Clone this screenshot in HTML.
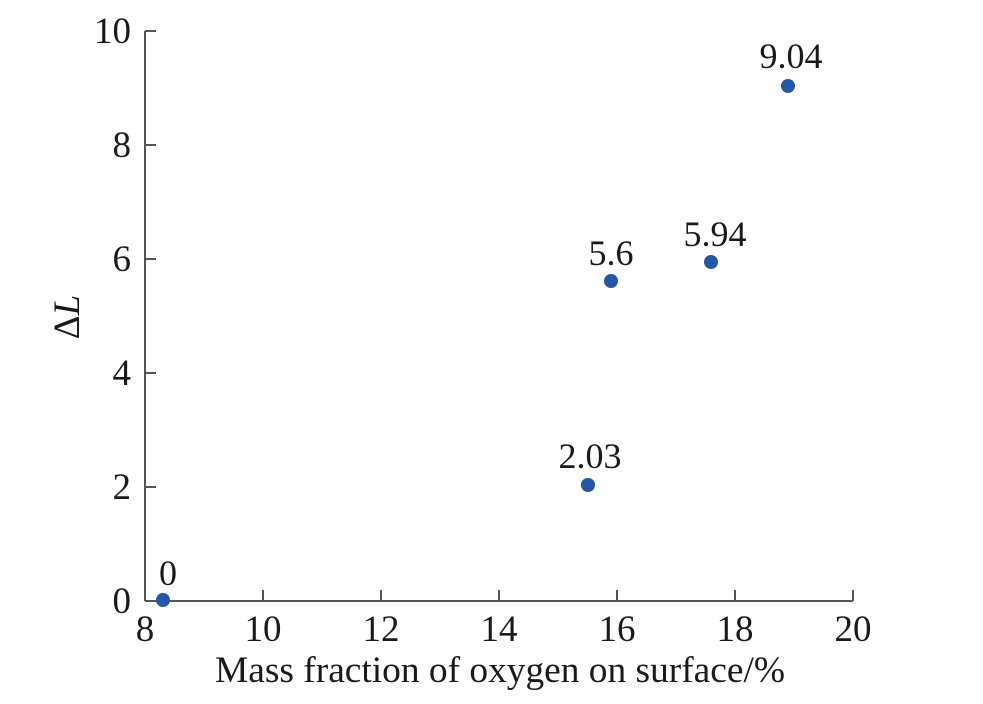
<!DOCTYPE html>
<html><head><meta charset="utf-8"><style>
html,body{margin:0;padding:0;background:#fff;}
text{font-family:"Liberation Serif",serif;fill:#1a1a1a;}
</style></head><body>
<svg width="983" height="699" viewBox="0 0 983 699" xmlns="http://www.w3.org/2000/svg">
<g stroke="#555" stroke-width="2" fill="none">
<line x1="145" y1="31" x2="145" y2="601"/>
<line x1="145" y1="601" x2="853" y2="601"/>
<line x1="145" y1="31" x2="156" y2="31"/>
<line x1="145" y1="145" x2="156" y2="145"/>
<line x1="145" y1="259" x2="156" y2="259"/>
<line x1="145" y1="373" x2="156" y2="373"/>
<line x1="145" y1="487" x2="156" y2="487"/>
<line x1="263" y1="601" x2="263" y2="590"/>
<line x1="381" y1="601" x2="381" y2="590"/>
<line x1="499" y1="601" x2="499" y2="590"/>
<line x1="617" y1="601" x2="617" y2="590"/>
<line x1="735" y1="601" x2="735" y2="590"/>
<line x1="853" y1="601" x2="853" y2="590"/>
</g>
<g font-size="37" text-anchor="end">
<text x="131" y="43">10</text>
<text x="131" y="157">8</text>
<text x="131" y="271">6</text>
<text x="131" y="385">4</text>
<text x="131" y="499">2</text>
<text x="131" y="613">0</text>
</g>
<g font-size="37" text-anchor="middle">
<text x="145" y="641">8</text>
<text x="263" y="641">10</text>
<text x="381" y="641">12</text>
<text x="499" y="641">14</text>
<text x="617" y="641">16</text>
<text x="735" y="641">18</text>
<text x="853" y="641">20</text>
<text x="500" y="682" textLength="570" lengthAdjust="spacingAndGlyphs">Mass fraction of oxygen on surface/%</text>
<text transform="translate(79,317) rotate(-90)">Δ<tspan font-style="italic">L</tspan></text>
</g>
<g fill="#2458a6">
<circle cx="163" cy="600" r="7"/>
<circle cx="588" cy="485" r="7"/>
<circle cx="611" cy="281" r="7"/>
<circle cx="711" cy="262" r="7"/>
<circle cx="788" cy="86" r="7"/>
</g>
<g font-size="36" text-anchor="middle">
<text x="168" y="585">0</text>
<text x="590" y="468">2.03</text>
<text x="611" y="265">5.6</text>
<text x="715" y="246">5.94</text>
<text x="791" y="68">9.04</text>
</g>
</svg>
</body></html>
